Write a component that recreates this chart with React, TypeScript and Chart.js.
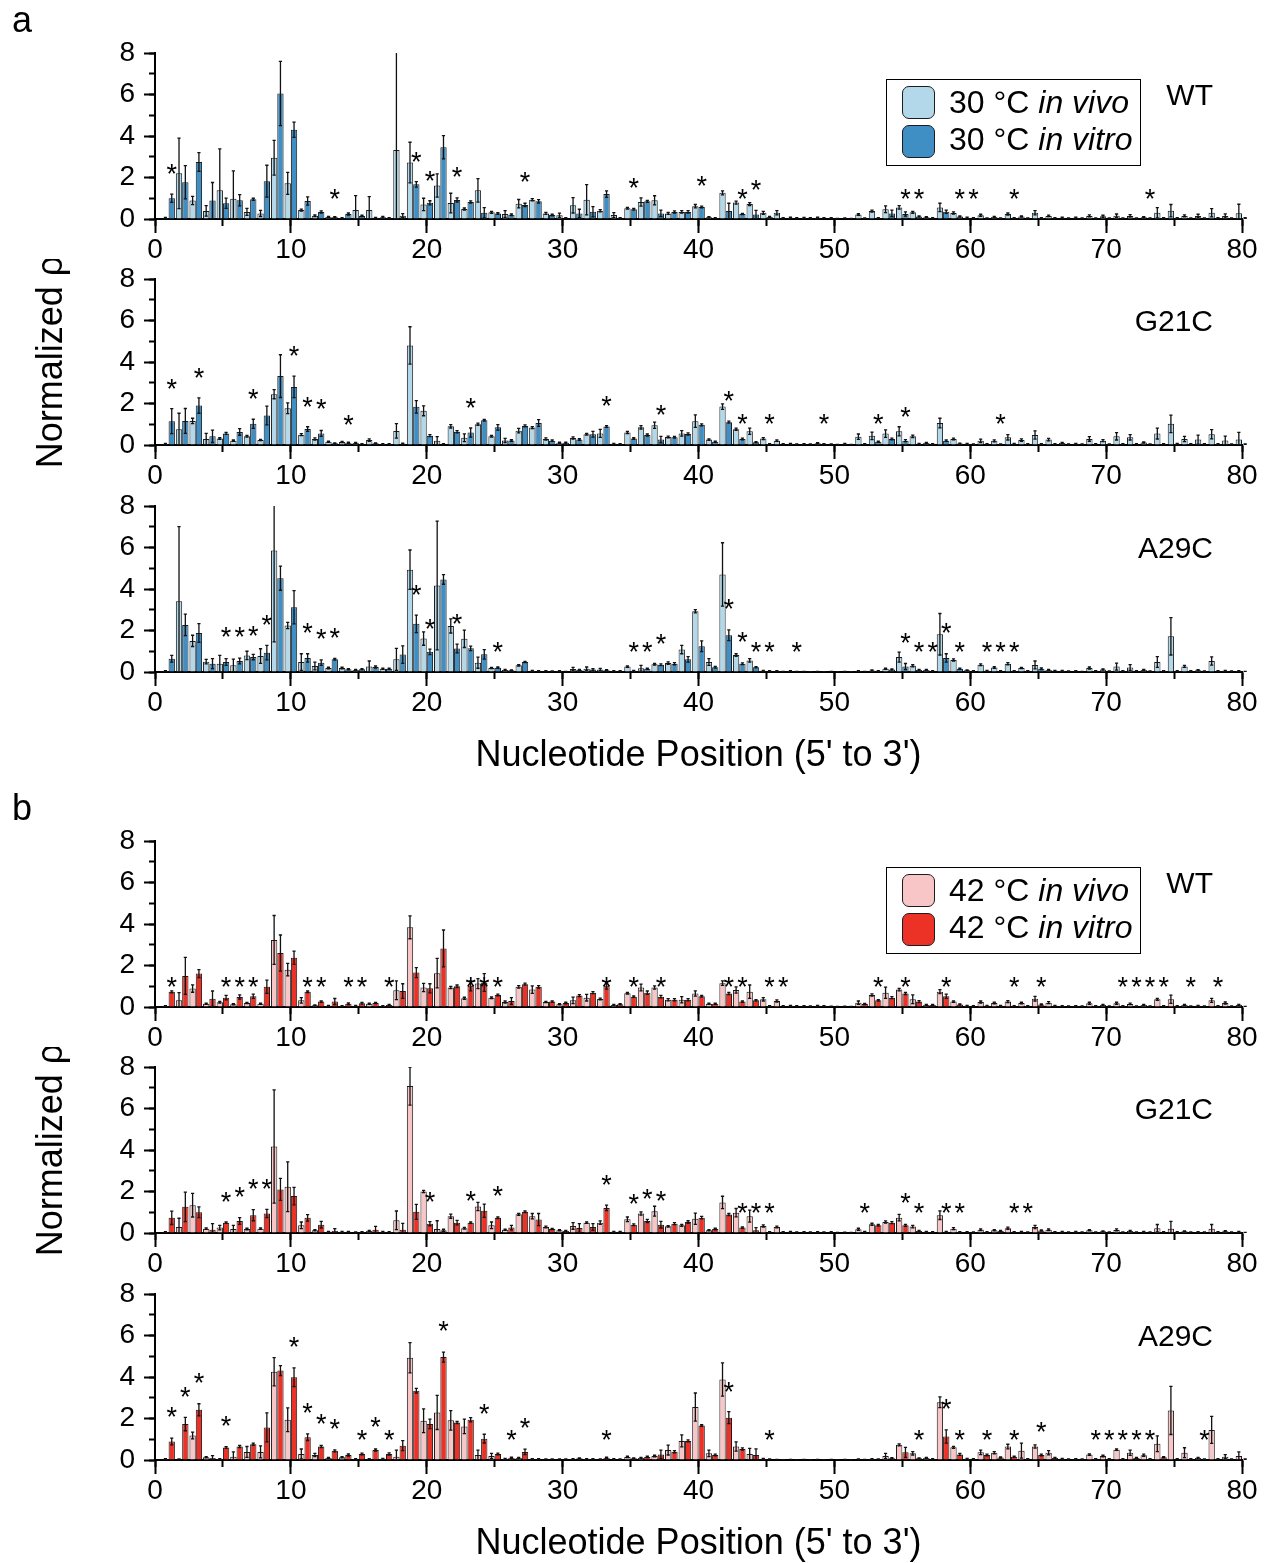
import React, { useEffect, useRef } from 'react';
import { Chart, registerables } from 'chart.js';

Chart.register(...registerables);

const FONT = '"Liberation Sans", Arial, Helvetica, sans-serif';
Chart.defaults.font.family = FONT;

// ---------- categories ----------
const positions = [
  1, 2, 3, 4, 5, 6, 7, 8, 9, 10, 11, 12, 13, 14, 15, 16, 17, 18, 19, 20,
  21, 22, 23, 24, 25, 26, 27, 28, 29, 30, 31, 32, 33, 34, 35, 36, 37, 38, 39, 40,
  41, 42, 43, 44, 45, 46, 47, 48, 49, 50, 51, 52, 53, 54, 55, 56, 57, 58, 59, 60,
  61, 62, 63, 64, 65, 66, 67, 68, 69, 70, 71, 72, 73, 74, 75, 76, 77, 78, 79, 80,
];
const xTickStep = 10;
const xMinorStep = 5;
const yTickStep = 2;
const yMinorStep = 1;

// ---------- a: 30 °C ----------
const wt30Vivo = [0.05,2.2,0.89,0.39,1.38,0.97,0.34,0.27,2.95,1.72, 0.43,0.16,0.1,0.05,0.43,0.43,0.08,3.33,2.72,0.7, 1.61,0.77,0.48,1.38,0.32,0.24,0.74,0.93,0.27,0.18, 0.66,0.93,0.4,0.19,0.52,0.82,0.9,0.27,0.34,0.62, 0.08,1.26,0.79,0.72,0.3,0.3,0.06,0.05,0.06,0.04, 0.03,0.22,0.38,0.47,0.56,0.32,0.08,0.56,0.29,0.06, 0.18,0.1,0.24,0.12,0.3,0.15,0.06,0.06,0.15,0.13, 0.16,0.15,0.08,0.3,0.4,0.15,0.15,0.3,0.15,0.28];
const wt30VivoErr = [0.03,1.7,0.2,0.25,2.0,1.35,0.17,0.15,0.84,0.53, 0.05,0.04,0.03,0.02,0.7,0.65,0.04,4.7,0.98,0.3, 0.56,0.47,0.05,0.57,0.05,0.16,0.2,0.05,0.05,0.1, 0.37,0.73,0.05,0.12,0.04,0.2,0.22,0.05,0.06,0.08, 0.03,0.1,0.07,0.07,0.07,0.1,0.03,0.03,0.03,0.02, 0.02,0.04,0.05,0.16,0.08,0.05,0.03,0.2,0.05,0.03, 0.05,0.03,0.05,0.03,0.1,0.04,0.03,0.03,0.05,0.05, 0.08,0.06,0.03,0.25,0.3,0.05,0.08,0.2,0.1,0.43];
const wt30Vitro = [1.0,1.77,2.75,0.89,0.76,0.9,0.95,1.82,6.05,4.3, 0.87,0.34,0.08,0.24,0.15,0.06,0.05,0.16,1.67,0.78, 3.46,0.92,0.82,0.3,0.27,0.2,0.68,0.85,0.19,0.04, 0.27,0.35,1.2,0.05,0.47,0.85,0.27,0.34,0.34,0.58, 0.05,0.39,0.24,0.22,0.1,0.04,0.04,0.04,0.04,0.02, 0.02,0.03,0.05,0.27,0.24,0.12,0.05,0.35,0.12,0.04, 0.03,0.03,0.05,0.03,0.05,0.04,0.03,0.03,0.03,0.03, 0.03,0.03,0.03,0.05,0.05,0.03,0.03,0.05,0.03,0.04];
const wt30VitroErr = [0.2,0.8,0.45,0.87,0.25,0.27,0.05,0.77,1.55,0.37, 0.2,0.05,0.03,0.05,0.03,0.02,0.02,0.1,0.13,0.1, 0.56,0.1,0.05,0.25,0.04,0.04,0.08,0.08,0.04,0.02, 0.2,0.25,0.16,0.02,0.04,0.05,0.16,0.05,0.06,0.04, 0.02,0.37,0.03,0.2,0.03,0.02,0.02,0.02,0.02,0.01, 0.01,0.02,0.02,0.16,0.1,0.03,0.02,0.08,0.03,0.02, 0.02,0.02,0.02,0.02,0.02,0.02,0.02,0.02,0.02,0.02, 0.02,0.02,0.02,0.02,0.02,0.02,0.02,0.02,0.02,0.02];
const wt30Stars = [[1,2.48],[13,1.27],[19,3.06],[20,2.13],[22,2.35],[27,2.08],[35,1.79],[40,1.88],[43,1.27],[44,1.69],[55,1.27],[56,1.27],[59,1.27],[60,1.27],[63,1.27],[73,1.27]];

const g21c30Vivo = [0.05,0.76,1.16,0.29,0.31,0.21,0.42,0.24,2.45,1.77, 0.5,0.29,0.16,0.14,0.1,0.24,0.05,0.68,4.8,1.65, 0.2,0.9,0.35,1.0,0.42,0.22,0.69,0.84,0.29,0.11, 0.34,0.52,0.56,0.06,0.6,0.85,0.95,0.39,0.56,1.15, 0.26,1.85,0.76,0.66,0.31,0.21,0.06,0.05,0.08,0.03, 0.06,0.4,0.44,0.55,0.66,0.42,0.1,1.06,0.29,0.06, 0.2,0.2,0.37,0.24,0.48,0.26,0.1,0.06,0.29,0.21, 0.42,0.37,0.12,0.55,1.02,0.29,0.26,0.52,0.22,0.26];
const g21c30VivoErr = [0.03,0.77,0.13,0.27,0.04,0.03,0.04,0.03,0.22,0.26, 0.05,0.05,0.03,0.03,0.03,0.06,0.02,0.35,0.9,0.24, 0.2,0.08,0.19,0.05,0.04,0.1,0.11,0.05,0.05,0.03, 0.05,0.04,0.19,0.02,0.05,0.08,0.15,0.04,0.13,0.3, 0.04,0.13,0.05,0.15,0.05,0.04,0.02,0.02,0.03,0.02, 0.02,0.13,0.18,0.18,0.22,0.06,0.03,0.23,0.04,0.02, 0.08,0.05,0.13,0.06,0.2,0.06,0.03,0.02,0.11,0.05, 0.18,0.13,0.03,0.26,0.42,0.13,0.22,0.22,0.21,0.35];
const g21c30Vitro = [1.15,1.16,1.9,0.42,0.56,0.63,1.02,1.42,3.32,2.8, 0.77,0.56,0.08,0.11,0.04,0.08,0.05,0.06,1.84,0.45, 0.04,0.64,0.6,1.19,0.85,0.22,0.92,1.06,0.21,0.11, 0.27,0.52,0.89,0.04,0.31,0.48,0.26,0.37,0.53,0.97, 0.16,1.1,0.29,0.13,0.05,0.04,0.03,0.03,0.04,0.02, 0.02,0.05,0.16,0.29,0.21,0.06,0.04,0.21,0.07,0.03, 0.04,0.03,0.06,0.05,0.05,0.05,0.03,0.03,0.04,0.03, 0.04,0.04,0.03,0.05,0.06,0.04,0.04,0.05,0.03,0.03];
const g21c30VitroErr = [0.6,0.6,0.37,0.3,0.05,0.16,0.22,0.45,1.03,0.52, 0.11,0.14,0.02,0.03,0.02,0.02,0.02,0.03,0.3,0.05, 0.02,0.05,0.22,0.04,0.13,0.04,0.05,0.16,0.04,0.03, 0.04,0.14,0.04,0.02,0.04,0.05,0.16,0.04,0.05,0.05, 0.03,0.05,0.04,0.03,0.02,0.02,0.02,0.02,0.02,0.01, 0.01,0.02,0.03,0.04,0.05,0.02,0.02,0.04,0.02,0.02, 0.02,0.02,0.02,0.02,0.02,0.02,0.02,0.02,0.02,0.02, 0.02,0.02,0.02,0.02,0.02,0.02,0.02,0.02,0.02,0.02];
const g21c30Stars = [[1,3.03],[3,3.55],[7,2.53],[10,4.61],[11,2.15],[12,2.02],[14,1.29],[23,2.11],[33,2.21],[37,1.73],[42,2.44],[43,1.31],[45,1.31],[49,1.31],[53,1.31],[55,1.66],[62,1.31]];

const a29c30Vivo = [0.05,3.41,1.5,0.5,0.4,0.32,0.8,0.77,5.85,2.24, 0.48,0.29,0.19,0.19,0.1,0.26,0.16,0.61,4.93,1.61, 4.17,2.22,1.6,0.45,0.19,0.1,0.32,0.06,0.04,0.05, 0.14,0.16,0.12,0.05,0.26,0.18,0.37,0.43,1.08,2.93, 0.48,4.7,0.82,0.56,0.06,0.04,0.04,0.02,0.02,0.02, 0.02,0.05,0.07,0.16,0.72,0.3,0.1,1.82,0.58,0.08, 0.35,0.22,0.4,0.19,0.34,0.1,0.06,0.04,0.19,0.12, 0.26,0.22,0.1,0.48,1.72,0.27,0.08,0.53,0.06,0.05];
const a29c30VivoErr = [0.02,3.6,0.27,0.11,0.4,0.3,0.2,0.35,4.4,0.15, 0.4,0.19,0.04,0.04,0.03,0.27,0.03,0.53,0.95,0.32, 3.1,0.34,0.42,0.27,0.03,0.02,0.04,0.02,0.02,0.02, 0.08,0.08,0.05,0.02,0.04,0.14,0.04,0.06,0.2,0.08, 0.16,1.53,0.06,0.08,0.02,0.02,0.02,0.01,0.01,0.01, 0.01,0.02,0.03,0.03,0.24,0.05,0.03,1.0,0.05,0.02, 0.04,0.04,0.05,0.03,0.19,0.03,0.02,0.02,0.05,0.03, 0.17,0.14,0.03,0.26,0.9,0.05,0.03,0.2,0.02,0.02];
const a29c30Vitro = [0.64,2.27,1.88,0.4,0.48,0.53,0.72,0.93,4.52,3.12, 0.68,0.45,0.61,0.13,0.13,0.24,0.16,0.84,2.32,0.97, 4.46,1.13,1.14,0.85,0.21,0.08,0.48,0.04,0.03,0.02, 0.1,0.12,0.08,0.04,0.06,0.16,0.35,0.4,0.61,1.24, 0.23,1.77,0.4,0.23,0.04,0.02,0.02,0.01,0.01,0.01, 0.01,0.02,0.05,0.12,0.26,0.1,0.04,0.68,0.16,0.04, 0.06,0.05,0.04,0.04,0.16,0.06,0.03,0.02,0.04,0.03, 0.04,0.04,0.03,0.05,0.05,0.04,0.03,0.04,0.03,0.02];
const a29c30VitroErr = [0.16,0.52,0.45,0.24,0.16,0.14,0.13,0.35,0.58,0.8, 0.2,0.13,0.04,0.03,0.03,0.05,0.03,0.42,0.42,0.13, 0.23,0.21,0.11,0.23,0.03,0.02,0.03,0.02,0.02,0.01, 0.03,0.04,0.03,0.02,0.02,0.03,0.04,0.05,0.13,0.26, 0.04,0.26,0.04,0.03,0.02,0.01,0.01,0.01,0.01,0.01, 0.01,0.01,0.02,0.03,0.15,0.02,0.02,0.2,0.03,0.02, 0.02,0.02,0.02,0.02,0.04,0.02,0.02,0.01,0.02,0.02, 0.02,0.02,0.02,0.02,0.02,0.02,0.02,0.02,0.02,0.01];
const a29c30Stars = [[5,1.98],[6,1.98],[7,2.06],[8,2.58],[11,2.17],[12,1.9],[13,1.93],[19,4.03],[20,2.4],[22,2.62],[25,1.29],[35,1.29],[36,1.29],[37,1.66],[42,3.35],[43,1.74],[44,1.29],[45,1.29],[47,1.29],[55,1.69],[56,1.29],[57,1.29],[58,2.17],[59,1.29],[61,1.29],[62,1.29],[63,1.29]];

// ---------- b: 42 °C ----------
const wt42Vivo = [0.05,0.32,0.89,0.16,0.23,0.13,0.19,0.16,3.23,1.8, 0.32,0.08,0.06,0.05,0.06,0.16,0.05,0.81,3.84,0.94, 1.63,0.94,0.42,1.13,0.45,0.24,0.97,0.84,0.24,0.13, 0.32,0.45,0.39,0.1,0.66,0.94,0.94,0.35,0.35,0.65, 0.16,1.15,0.82,0.74,0.37,0.29,0.06,0.04,0.06,0.03, 0.03,0.21,0.58,0.69,0.84,0.37,0.1,0.74,0.26,0.06, 0.24,0.19,0.26,0.19,0.4,0.21,0.05,0.05,0.18,0.1, 0.18,0.15,0.1,0.37,0.37,0.1,0.06,0.32,0.19,0.1];
const wt42VivoErr = [0.02,0.37,0.18,0.03,0.04,0.03,0.03,0.03,1.18,0.3, 0.13,0.02,0.02,0.02,0.02,0.03,0.02,0.45,0.55,0.2, 0.71,0.05,0.05,0.24,0.04,0.05,0.06,0.18,0.03,0.03, 0.16,0.16,0.04,0.02,0.04,0.16,0.08,0.05,0.15,0.13, 0.03,0.11,0.15,0.32,0.08,0.05,0.02,0.02,0.02,0.01, 0.01,0.08,0.05,0.27,0.06,0.21,0.03,0.1,0.04,0.02, 0.05,0.04,0.05,0.04,0.11,0.05,0.02,0.02,0.05,0.03, 0.05,0.04,0.03,0.05,0.2,0.03,0.02,0.1,0.05,0.03];
const wt42Vitro = [0.73,1.5,1.61,0.4,0.45,0.48,0.52,0.98,2.6,2.37, 0.73,0.26,0.26,0.16,0.18,0.19,0.1,0.77,1.66,0.9, 2.82,1.0,1.02,1.18,0.58,0.29,1.1,0.97,0.26,0.19, 0.55,0.69,1.02,0.13,0.5,0.69,0.5,0.35,0.35,0.52, 0.16,0.65,0.26,0.32,0.05,0.04,0.04,0.03,0.05,0.02, 0.02,0.14,0.32,0.45,0.65,0.26,0.1,0.52,0.12,0.04, 0.06,0.06,0.05,0.04,0.12,0.06,0.03,0.03,0.04,0.03, 0.04,0.03,0.03,0.05,0.05,0.03,0.03,0.04,0.03,0.02];
const wt42VitroErr = [0.05,0.89,0.19,0.37,0.11,0.1,0.1,0.32,0.87,0.32, 0.04,0.04,0.15,0.04,0.04,0.03,0.03,0.35,0.24,0.22, 0.89,0.06,0.24,0.43,0.04,0.16,0.05,0.06,0.04,0.04, 0.05,0.05,0.16,0.03,0.04,0.08,0.06,0.05,0.05,0.04, 0.03,0.05,0.04,0.04,0.02,0.02,0.02,0.02,0.02,0.01, 0.01,0.03,0.04,0.05,0.05,0.05,0.03,0.1,0.03,0.02, 0.02,0.02,0.02,0.02,0.03,0.02,0.02,0.02,0.02,0.02, 0.02,0.02,0.02,0.02,0.02,0.02,0.02,0.02,0.02,0.01];
const wt42Stars = [[1,1.29],[5,1.29],[6,1.29],[7,1.29],[11,1.29],[12,1.29],[14,1.29],[15,1.29],[17,1.29],[23,1.29],[24,1.29],[25,1.29],[33,1.29],[35,1.29],[37,1.29],[42,1.29],[43,1.29],[45,1.29],[46,1.29],[53,1.29],[55,1.29],[58,1.29],[63,1.29],[65,1.29],[71,1.29],[72,1.29],[73,1.29],[74,1.29],[76,1.29],[78,1.29]];

const g21c42Vivo = [0.05,0.29,1.34,0.21,0.26,0.19,0.19,0.21,4.17,2.23, 0.37,0.13,0.06,0.06,0.03,0.1,0.06,0.61,7.08,2.0, 0.19,0.81,0.23,1.28,0.37,0.16,0.9,0.81,0.29,0.13, 0.34,0.5,0.5,0.06,0.66,0.94,1.05,0.32,0.37,0.69, 0.13,1.47,0.98,0.81,0.34,0.29,0.06,0.04,0.05,0.04, 0.03,0.18,0.42,0.53,0.74,0.31,0.06,0.86,0.21,0.04, 0.16,0.13,0.23,0.06,0.29,0.16,0.06,0.06,0.13,0.08, 0.15,0.1,0.06,0.23,0.21,0.08,0.05,0.21,0.08,0.06];
const g21c42VivoErr = [0.02,0.42,0.57,0.04,0.11,0.18,0.04,0.04,2.73,1.2, 0.16,0.03,0.02,0.02,0.02,0.03,0.02,0.45,0.92,0.05, 0.4,0.1,0.04,0.2,0.16,0.03,0.05,0.13,0.04,0.03, 0.16,0.04,0.08,0.02,0.11,0.08,0.24,0.04,0.05,0.27, 0.03,0.3,0.2,0.29,0.05,0.04,0.02,0.02,0.02,0.02, 0.01,0.05,0.05,0.05,0.16,0.06,0.02,0.21,0.05,0.02, 0.04,0.03,0.05,0.02,0.08,0.04,0.02,0.02,0.03,0.02, 0.05,0.03,0.02,0.18,0.35,0.02,0.02,0.2,0.03,0.02];
const g21c42Vitro = [0.73,1.26,1.0,0.16,0.5,0.58,0.86,0.94,2.1,1.78, 0.73,0.4,0.1,0.06,0.05,0.16,0.05,0.16,1.02,0.45, 0.13,0.5,0.5,1.07,0.74,0.26,1.02,0.65,0.19,0.1, 0.24,0.29,1.21,0.06,0.4,0.58,0.4,0.45,0.53,0.74, 0.19,0.89,0.26,0.13,0.04,0.04,0.03,0.03,0.03,0.02, 0.02,0.06,0.37,0.5,0.37,0.1,0.05,0.06,0.05,0.03, 0.04,0.1,0.05,0.03,0.12,0.04,0.03,0.03,0.03,0.03, 0.03,0.03,0.03,0.04,0.05,0.03,0.03,0.04,0.03,0.02];
const g21c42VitroErr = [0.32,0.71,0.26,0.29,0.04,0.16,0.27,0.2,0.53,0.42, 0.16,0.16,0.11,0.02,0.02,0.16,0.02,0.3,0.36,0.1, 0.05,0.11,0.04,0.32,0.04,0.11,0.04,0.29,0.03,0.03, 0.21,0.16,0.13,0.02,0.04,0.08,0.16,0.05,0.06,0.06, 0.04,0.05,0.04,0.13,0.02,0.02,0.02,0.02,0.02,0.01, 0.01,0.02,0.04,0.05,0.05,0.03,0.02,0.02,0.02,0.02, 0.02,0.03,0.02,0.02,0.03,0.02,0.02,0.02,0.02,0.02, 0.02,0.02,0.02,0.02,0.02,0.02,0.02,0.02,0.02,0.01];
const g21c42Stars = [[5,1.82],[6,2.02],[7,2.42],[8,2.42],[20,1.78],[23,1.87],[25,2.1],[33,2.6],[35,1.7],[36,1.94],[37,1.87],[43,1.26],[44,1.26],[45,1.26],[52,1.26],[55,1.74],[56,1.26],[58,1.26],[59,1.26],[63,1.26],[64,1.26]];

const a29c42Vivo = [0.05,0.03,1.18,0.13,0.05,0.16,0.39,0.39,4.25,1.94, 0.29,0.24,0.1,0.13,0.05,0.05,0.06,0.16,4.93,1.89, 2.29,1.91,1.62,0.24,0.19,0.06,0.1,0.04,0.03,0.03, 0.05,0.05,0.03,0.04,0.15,0.1,0.19,0.48,0.92,2.55, 0.32,3.88,0.65,0.29,0.06,0.02,0.02,0.02,0.02,0.02, 0.02,0.03,0.05,0.19,0.73,0.32,0.1,2.78,0.61,0.06, 0.37,0.35,0.65,0.45,0.65,0.35,0.06,0.05,0.26,0.19, 0.5,0.35,0.23,0.78,2.39,0.35,0.1,1.45,0.16,0.19];
const a29c42VivoErr = [0.02,0.02,0.16,0.03,0.02,0.23,0.26,0.29,0.68,0.57, 0.24,0.08,0.03,0.03,0.02,0.02,0.02,0.32,0.73,0.57, 0.82,0.47,0.35,0.24,0.13,0.02,0.03,0.02,0.02,0.02, 0.02,0.02,0.02,0.02,0.03,0.03,0.04,0.24,0.29,0.68, 0.16,0.8,0.22,0.27,0.02,0.01,0.01,0.01,0.01,0.01, 0.01,0.02,0.02,0.13,0.05,0.08,0.03,0.26,0.05,0.02, 0.11,0.05,0.11,0.36,0.08,0.1,0.02,0.02,0.04,0.04, 0.04,0.13,0.05,0.38,1.16,0.24,0.03,0.65,0.1,0.2];
const a29c42Vitro = [0.89,1.73,2.42,0.1,0.6,0.65,0.76,1.57,4.31,3.99, 1.1,0.65,0.44,0.24,0.29,0.48,0.29,0.69,3.34,1.74, 4.96,1.81,1.94,1.03,0.29,0.11,0.39,0.05,0.03,0.03, 0.08,0.05,0.11,0.03,0.08,0.15,0.27,0.4,0.92,1.66, 0.24,2.04,0.53,0.24,0.03,0.01,0.01,0.01,0.01,0.01, 0.01,0.02,0.03,0.08,0.37,0.08,0.05,1.13,0.27,0.04, 0.24,0.12,0.16,0.05,0.24,0.1,0.03,0.03,0.05,0.04, 0.05,0.1,0.04,0.13,0.05,0.05,0.03,0.05,0.03,0.04];
const a29c42VitroErr = [0.16,0.32,0.29,0.11,0.04,0.05,0.05,0.7,0.24,0.45, 0.16,0.05,0.05,0.05,0.04,0.05,0.05,0.24,0.11,0.23, 0.24,0.05,0.1,0.21,0.04,0.03,0.13,0.02,0.02,0.02, 0.02,0.02,0.03,0.02,0.02,0.03,0.21,0.05,0.05,0.04, 0.04,0.29,0.05,0.3,0.02,0.01,0.01,0.01,0.01,0.01, 0.01,0.01,0.02,0.03,0.24,0.02,0.02,0.32,0.05,0.02, 0.04,0.03,0.03,0.02,0.04,0.03,0.02,0.02,0.02,0.02, 0.02,0.03,0.02,0.03,0.02,0.02,0.02,0.02,0.02,0.01];
const a29c42Stars = [[1,2.37],[2,3.34],[3,4.0],[5,1.94],[10,5.74],[11,2.58],[12,2.02],[13,1.81],[15,1.29],[16,1.89],[17,1.29],[21,6.51],[24,2.54],[26,1.29],[27,1.83],[33,1.29],[42,3.6],[45,1.29],[56,1.29],[58,2.75],[59,1.29],[61,1.29],[63,1.29],[65,1.66],[69,1.29],[70,1.29],[71,1.29],[72,1.29],[73,1.29],[77,1.29]];

// ---------- text ----------
const xTitle = "Nucleotide Position (5' to 3')";
const yTitle = 'Normalized ρ';
const colors = {
  blueLight: '#b3d8e9',
  blueDark: '#3f8fc4',
  redLight: '#f8c6c7',
  redDark: '#ec3226',
};

type PanelDef = {
  key: string;
  name: string;
  vivo: number[];
  vivoErr: number[];
  vitro: number[];
  vitroErr: number[];
  stars: number[][];
  light: string;
  dark: string;
  temp: string;
  plotTop: number;
  showXTitle: boolean;
  showYTitle: boolean;
  showLegend: boolean;
};

const PLOT_H = 166;
const PAD_T = 20;

const panels: PanelDef[] = [
  { key: 'a1', name: 'WT', vivo: wt30Vivo, vivoErr: wt30VivoErr, vitro: wt30Vitro, vitroErr: wt30VitroErr, stars: wt30Stars, light: colors.blueLight, dark: colors.blueDark, temp: '30', plotTop: 53, showXTitle: false, showYTitle: false, showLegend: true },
  { key: 'a2', name: 'G21C', vivo: g21c30Vivo, vivoErr: g21c30VivoErr, vitro: g21c30Vitro, vitroErr: g21c30VitroErr, stars: g21c30Stars, light: colors.blueLight, dark: colors.blueDark, temp: '30', plotTop: 279, showXTitle: false, showYTitle: true, showLegend: false },
  { key: 'a3', name: 'A29C', vivo: a29c30Vivo, vivoErr: a29c30VivoErr, vitro: a29c30Vitro, vitroErr: a29c30VitroErr, stars: a29c30Stars, light: colors.blueLight, dark: colors.blueDark, temp: '30', plotTop: 506, showXTitle: true, showYTitle: false, showLegend: false },
  { key: 'b1', name: 'WT', vivo: wt42Vivo, vivoErr: wt42VivoErr, vitro: wt42Vitro, vitroErr: wt42VitroErr, stars: wt42Stars, light: colors.redLight, dark: colors.redDark, temp: '42', plotTop: 841, showXTitle: false, showYTitle: false, showLegend: true },
  { key: 'b2', name: 'G21C', vivo: g21c42Vivo, vivoErr: g21c42VivoErr, vitro: g21c42Vitro, vitroErr: g21c42VitroErr, stars: g21c42Stars, light: colors.redLight, dark: colors.redDark, temp: '42', plotTop: 1067, showXTitle: false, showYTitle: true, showLegend: false },
  { key: 'b3', name: 'A29C', vivo: a29c42Vivo, vivoErr: a29c42VivoErr, vitro: a29c42Vitro, vitroErr: a29c42VitroErr, stars: a29c42Stars, light: colors.redLight, dark: colors.redDark, temp: '42', plotTop: 1294, showXTitle: true, showYTitle: false, showLegend: false },
];

const errorBarPlugin = {
  id: 'errorBars',
  afterDatasetsDraw(chart: any) {
    const ctx = chart.ctx;
    const ys = chart.scales.y;
    const area = chart.chartArea;
    ctx.save();
    ctx.beginPath();
    ctx.rect(area.left - 5, area.top, area.right - area.left + 10, area.bottom - area.top);
    ctx.clip();
    ctx.strokeStyle = '#111';
    ctx.lineWidth = 1.3;
    chart.data.datasets.forEach((ds: any, di: number) => {
      const meta = chart.getDatasetMeta(di);
      meta.data.forEach((el: any, i: number) => {
        const v = ds.data[i].y;
        const e = ds.errors[i];
        const x = el.x;
        const yTop = ys.getPixelForValue(v + e);
        const yBot = ys.getPixelForValue(Math.max(0, v - e));
        ctx.beginPath();
        ctx.moveTo(x, yTop);
        ctx.lineTo(x, yBot);
        ctx.moveTo(x - 1.6, yTop);
        ctx.lineTo(x + 1.6, yTop);
        ctx.moveTo(x - 1.6, yBot);
        ctx.lineTo(x + 1.6, yBot);
        ctx.stroke();
      });
    });
    ctx.restore();
  },
};

function makeStarPlugin(stars: number[][]) {
  return {
    id: 'asterisks',
    afterDatasetsDraw(chart: any) {
      const ctx = chart.ctx;
      const ys = chart.scales.y;
      const meta = chart.getDatasetMeta(1);
      const size = 27;
      ctx.save();
      ctx.fillStyle = '#000';
      ctx.font = `${size}px ${FONT}`;
      ctx.textAlign = 'center';
      ctx.textBaseline = 'alphabetic';
      stars.forEach(([pos, val]) => {
        const idx = positions.indexOf(pos);
        const el = meta.data[idx];
        if (!el) return;
        ctx.fillText('*', el.x, ys.getPixelForValue(val) + 0.57 * size);
      });
      ctx.restore();
    },
  };
}

function BarPanel({ def }: { def: PanelDef }) {
  const ref = useRef<HTMLCanvasElement>(null);
  const xH = def.showXTitle ? 106 : 50;
  const height = PAD_T + PLOT_H + xH;

  useEffect(() => {
    const canvas = ref.current;
    if (!canvas) return;
    const tickFont = { size: 28, family: FONT };
    const chart = new Chart(canvas, {
      type: 'bar',
      data: {
        datasets: [
          {
            label: `${def.temp} °C in vivo`,
            data: positions.map((p, i) => ({ x: p, y: def.vivo[i] })),
            backgroundColor: def.light,
            borderColor: '#1c1c1c',
            borderWidth: 1,
            errors: def.vivoErr,
          } as any,
          {
            label: `${def.temp} °C in vitro`,
            data: positions.map((p, i) => ({ x: p, y: def.vitro[i] })),
            backgroundColor: def.dark,
            borderColor: '#1c1c1c',
            borderWidth: 1,
            errors: def.vitroErr,
          } as any,
        ],
      },
      options: {
        animation: false,
        responsive: false,
        maintainAspectRatio: false,
        events: [],
        layout: { padding: { top: PAD_T, right: 23, left: 0, bottom: 0 } },
        datasets: { bar: { categoryPercentage: 0.93, barPercentage: 1, grouped: true } } as any,
        plugins: { legend: { display: false }, tooltip: { enabled: false } },
        scales: {
          x: {
            type: 'linear',
            position: 'bottom',
            weight: 1,
            min: 0,
            max: 80,
            offset: false,
            ticks: { stepSize: xTickStep, font: tickFont, color: '#000', padding: 0, maxRotation: 0, autoSkip: false },
            grid: { offset: false, drawOnChartArea: false, tickLength: 14, tickWidth: 2, tickColor: '#000' },
            border: { display: true, color: '#000', width: 2 },
            title: {
              display: def.showXTitle,
              text: xTitle,
              color: '#000',
              font: { size: 36, family: FONT },
              padding: { top: 0, bottom: 0 },
            },
            afterFit: (s: any) => {
              s.height = xH;
              s.paddingLeft = 0;
              s.paddingRight = 0;
            },
          },
          xm: {
            type: 'linear',
            position: 'bottom',
            weight: 0,
            min: 0,
            max: 80,
            offset: false,
            ticks: { stepSize: xMinorStep, display: false },
            grid: { offset: false, drawOnChartArea: false, tickLength: 7, tickWidth: 2, tickColor: '#000' },
            border: { display: false },
            afterFit: (s: any) => {
              s.height = 0;
              s.paddingLeft = 0;
              s.paddingRight = 0;
            },
          },
          y: {
            type: 'linear',
            position: 'left',
            weight: 1,
            min: 0,
            max: 8,
            ticks: { stepSize: yTickStep, font: tickFont, color: '#000', padding: 9 },
            grid: { drawOnChartArea: false, tickLength: 11, tickWidth: 2, tickColor: '#000' },
            border: { display: true, color: '#000', width: 2 },
            title: {
              display: def.showYTitle,
              text: yTitle,
              color: '#000',
              font: { size: 36, family: FONT },
              padding: { top: 30, bottom: 0 },
            },
            afterFit: (s: any) => {
              s.width = 155;
              s.paddingTop = 0;
              s.paddingBottom = 0;
            },
          },
          ym: {
            type: 'linear',
            position: 'left',
            weight: 0,
            min: 0,
            max: 8,
            ticks: { stepSize: yMinorStep, display: false },
            grid: { drawOnChartArea: false, tickLength: 6, tickWidth: 2, tickColor: '#000' },
            border: { display: false },
            afterFit: (s: any) => {
              s.width = 0;
              s.paddingTop = 0;
              s.paddingBottom = 0;
            },
          },
        } as any,
      },
      plugins: [errorBarPlugin, makeStarPlugin(def.stars)],
    });
    return () => chart.destroy();
  }, []);

  return (
    <canvas
      ref={ref}
      width={1265}
      height={height}
      style={{ position: 'absolute', left: 0, top: def.plotTop - PAD_T, width: 1265, height }}
    />
  );
}

function Legend({ def }: { def: PanelDef }) {
  const top = def.plotTop + 26;
  const rowText = (italic: string) => (
    <>
      {def.temp} °C <i>{italic}</i>
    </>
  );
  const sq = (color: string, t: number) => (
    <div
      style={{
        position: 'absolute', left: 15, top: t, width: 33, height: 33, boxSizing: 'border-box',
        background: color, border: '1.5px solid #1c1c1c', borderRadius: 7,
      }}
    />
  );
  const txt = (content: any, t: number) => (
    <div style={{ position: 'absolute', left: 62, top: t, fontSize: 32, lineHeight: 1, whiteSpace: 'nowrap' }}>
      {content}
    </div>
  );
  return (
    <div
      style={{
        position: 'absolute', left: 886, top, width: 255, height: 87, boxSizing: 'border-box',
        border: '1.5px solid #000', background: '#fff',
      }}
    >
      {sq(def.light, 6)}
      {sq(def.dark, 44.5)}
      {txt(rowText('in vivo'), 5.7)}
      {txt(rowText('in vitro'), 43.4)}
    </div>
  );
}

export default function App() {
  return (
    <div
      style={{
        position: 'absolute', left: 0, top: 0, width: 1265, height: 1563, background: '#fff',
        fontFamily: FONT, color: '#000', overflow: 'hidden',
      }}
    >
      {panels.map((p) => (
        <BarPanel key={p.key} def={p} />
      ))}
      {panels.map((p) => (
        <div
          key={p.key + '-label'}
          style={{
            position: 'absolute', left: 1013, width: 200, textAlign: 'right', top: p.plotTop + 52 - 25.4,
            fontSize: 30, lineHeight: 1,
          }}
        >
          {p.name}
        </div>
      ))}
      {panels.filter((p) => p.showLegend).map((p) => (
        <Legend key={p.key + '-legend'} def={p} />
      ))}
      <div style={{ position: 'absolute', left: 12, top: 2, fontSize: 36, lineHeight: 1 }}>a</div>
      <div style={{ position: 'absolute', left: 12, top: 790, fontSize: 36, lineHeight: 1 }}>b</div>
    </div>
  );
}
